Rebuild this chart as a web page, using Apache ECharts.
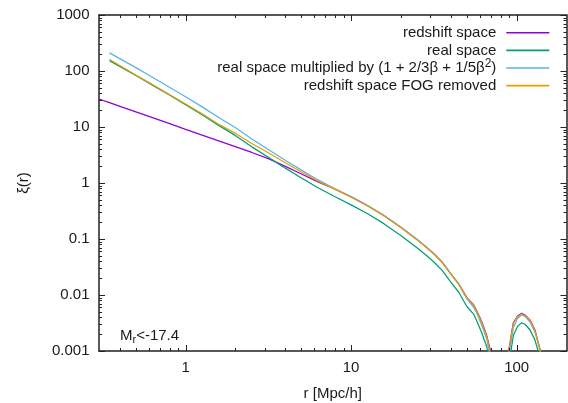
<!DOCTYPE html>
<html><head><meta charset="utf-8">
<script src="https://cdn.jsdelivr.net/npm/echarts@6/dist/echarts.min.js"></script>
<style>html,body{margin:0;padding:0;background:#fff}#c{width:568px;height:403px}</style>
</head><body><div id="c"></div>
<script>
// r [Mpc/h] sample points
const rVals = [0.3, 0.347, 0.398, 0.501, 0.631, 0.794, 1.0, 1.259, 1.585, 1.995, 2.512, 3.162, 3.981, 5.012, 6.31, 7.943, 10.0, 12.59, 15.85, 19.95, 25.12, 28.18, 31.62, 35.48, 39.81, 44.67, 50.12, 54.95, 57.54, 61.66, 66.07, 70.79, 75.86, 89.13, 95.5, 101.2, 107.2, 112.2, 120.2, 128.8, 138.0, 147.9];
// xi(r) for each series (null = not plotted / negative)
const redshiftSpace = [31.6, 27.2, 23.6, 18.6, 14.7, 11.6, 9.1, 7.18, 5.65, 4.46, 3.51, 2.72, 2.0, 1.45, 1.05, 0.78, 0.565, 0.392, 0.26, 0.162, 0.097, 0.0735, 0.0545, 0.0386, 0.0244, 0.0158, 0.0089, 0.0067, 0.0051, 0.0033, 0.00185, 0.0008, null, 0.00093, 0.0032, 0.0042, 0.0047, 0.0044, 0.0036, 0.0024, 0.0011, 0.0003];
const realSpace = [null, 153, 122, 83, 56, 37.6, 25.1, 16.6, 10.7, 7.08, 4.42, 2.88, 1.86, 1.23, 0.822, 0.575, 0.407, 0.282, 0.186, 0.116, 0.069, 0.0525, 0.0389, 0.0275, 0.0174, 0.0112, 0.00617, 0.00457, 0.00339, 0.00207, 0.00117, 0.0003, null, 0.0005, 0.0019, 0.00275, 0.0032, 0.0030, 0.0024, 0.00158, 0.00079, null];
const realScaled = [null, 211, 168, 115, 77.6, 51.9, 34.7, 22.9, 14.8, 9.77, 6.10, 3.98, 2.57, 1.70, 1.135, 0.794, 0.572, 0.397, 0.262, 0.163, 0.0975, 0.0738, 0.0548, 0.0388, 0.0245, 0.0158, 0.0085, 0.0060, 0.00468, 0.00286, 0.00162, 0.0005, null, 0.00069, 0.00263, 0.0038, 0.00442, 0.00417, 0.00331, 0.00219, 0.0011, 0.0003];
const fogRemoved = [null, 162, 127, 85, 57.5, 38.5, 25.7, 17.2, 11.2, 7.76, 5.07, 3.47, 2.32, 1.57, 1.08, 0.776, 0.562, 0.389, 0.257, 0.160, 0.0955, 0.0724, 0.0537, 0.038, 0.024, 0.0155, 0.0087, 0.0066, 0.0050, 0.00316, 0.00178, 0.0007, null, 0.00089, 0.0031, 0.0041, 0.00457, 0.00427, 0.00355, 0.00229, 0.00105, 0.0003];

const seriesNames = ['redshift space', 'real space', 'real space multiplied by (1 + 2/3β + 1/5β^2)', 'redshift space FOG removed'];
const seriesColors = ['#9400d3', '#009e73', '#56b4e9', '#e69f00'];

const xMajorTicks = [1, 10, 100];
const xMajorLabels = ['1', '10', '100'];
const xMinorTicks = [0.4, 0.5, 0.6, 0.7, 0.8, 0.9, 2, 3, 4, 5, 6, 7, 8, 9, 20, 30, 40, 50, 60, 70, 80, 90];
const yMajorTicks = [0.001, 0.01, 0.1, 1, 10, 100, 1000];
const yMajorLabels = ['0.001', '0.01', '0.1', '1', '10', '100', '1000'];
const yMinorTicks = [];
[0.001, 0.01, 0.1, 1, 10, 100].forEach(d => { for (let k = 2; k <= 9; k++) yMinorTicks.push(+(k * d).toPrecision(6)); });

const X_MIN = 0.3, X_MAX = 200, Y_MIN = 0.001, Y_MAX = 1000;
const FONT = 'Liberation Sans, Arial, sans-serif';
const INK = '#1a1a1a';
const lineCol = '#222';
const GRID = { left: 99, top: 15, right: 1.5, bottom: 52 };

function labelFor(ticks, labels) {
  return function (v) {
    for (let i = 0; i < ticks.length; i++) {
      if (Math.abs(Math.log10(v) - Math.log10(ticks[i])) < 1e-6) return labels[i];
    }
    return '';
  };
}

function mkAxis(kind, pos, showLabels, extra) {
  const ticks = kind === 'x' ? xMajorTicks : yMajorTicks;
  const labels = kind === 'x' ? xMajorLabels : yMajorLabels;
  const ax = {
    type: 'log', logBase: 10, position: pos,
    min: kind === 'x' ? X_MIN : Y_MIN, max: kind === 'x' ? X_MAX : Y_MAX,
    axisLine: { show: true, onZero: false, lineStyle: { color: lineCol, width: 1.5 } },
    axisTick: { show: false },
    axisLabel: showLabels ? {
      show: true, margin: kind === 'x' ? 9 : 9.5, fontSize: 15, fontFamily: FONT, color: INK,
      formatter: labelFor(ticks, labels)
    } : { show: false },
    splitLine: { show: false },
    minorTick: { show: false }
  };
  return Object.assign(ax, extra || {});
}

const xAxes = [
  mkAxis('x', 'bottom', true, { name: 'r [Mpc/h]', nameLocation: 'middle', nameGap: 35, nameTextStyle: { fontSize: 15, fontFamily: FONT, color: INK } }),
  mkAxis('x', 'top', false)
];
const yAxes = [
  mkAxis('y', 'left', true, { name: 'ξ(r)', nameLocation: 'middle', nameGap: 68, nameTextStyle: { fontSize: 15, fontFamily: FONT, color: INK } }),
  mkAxis('y', 'right', false)
];

const lineSeries = [redshiftSpace, realSpace, realScaled, fogRemoved].map((vals, si) => ({
  type: 'line',
  name: seriesNames[si],
  xAxisIndex: 0, yAxisIndex: 0,
  data: rVals.map((r, i) => [r, vals[i] == null ? null : vals[i]]),
  showSymbol: false, symbol: 'none',
  connectNulls: false, clip: true, smooth: false,
  lineStyle: { color: seriesColors[si], width: 1.25 },
  itemStyle: { color: seriesColors[si] },
  emphasis: { disabled: true },
  z: 2 + si
}));

function makeLabelText() {
  return {
    type: 'text', left: 120, top: 328.5,
    style: {
      text: 'M{sub|r}<-17.4', fontSize: 15, fontFamily: FONT, fill: INK,
      rich: { sub: { fontSize: 11, fontFamily: FONT, fill: INK, padding: [8, 0, 0, 0] } }
    }
  };
}

const chart = echarts.init(document.getElementById('c'), null, { renderer: 'canvas' });
chart.setOption({
  animation: false,
  grid: { left: GRID.left, top: GRID.top, right: GRID.right, bottom: GRID.bottom, containLabel: false, outerBoundsMode: 'none' },
  xAxis: xAxes,
  yAxis: yAxes,
  legend: {
    orient: 'vertical', right: 18.7, top: 21.8, align: 'right',
    padding: 0, itemGap: -4.4, itemWidth: 43, itemHeight: 10,
    icon: 'path://M0,0H43V1.6H0Z',
    selectedMode: false,
    data: seriesNames,
    formatter: n => n.replace('^2', '{sup|2}'),
    textStyle: {
      fontSize: 15, fontFamily: FONT, color: INK, lineHeight: 22, padding: [0, 5, 0, 0],
      rich: { sup: { fontSize: 12, fontFamily: FONT, color: INK, lineHeight: 22, padding: [0, 0, 8, 0] } }
    }
  },
  series: lineSeries
});

// Mirrored inward tick marks (gnuplot style)
const W = chart.getWidth(), H = chart.getHeight();
const PX_L = GRID.left, PX_R = W - GRID.right, PY_T = GRID.top, PY_B = H - GRID.bottom;
function logFrac(v, a, b) { return (Math.log10(v) - Math.log10(a)) / (Math.log10(b) - Math.log10(a)); }
function toX(v) {
  let p = null;
  try { p = chart.convertToPixel({ seriesIndex: 0 }, [v, 1]); } catch (e) { p = null; }
  const x = Array.isArray(p) ? p[0] : p;
  if (typeof x === 'number' && isFinite(x) && x >= PX_L - 1 && x <= PX_R + 1) return x;
  return PX_L + logFrac(v, X_MIN, X_MAX) * (PX_R - PX_L);
}
function toY(v) {
  let p = null;
  try { p = chart.convertToPixel({ seriesIndex: 0 }, [1, v]); } catch (e) { p = null; }
  const y = Array.isArray(p) ? p[1] : p;
  if (typeof y === 'number' && isFinite(y) && y >= PY_T - 1 && y <= PY_B + 1) return y;
  return PY_B - logFrac(v, Y_MIN, Y_MAX) * (PY_B - PY_T);
}
const xl = PX_L, xr = PX_R, yb = PY_B, yt = PY_T;
const graphicEls = [];
function tickLine(x1, y1, x2, y2) {
  return { type: 'line', z: 50, shape: { x1: x1, y1: y1, x2: x2, y2: y2 }, style: { stroke: lineCol, lineWidth: 1 } };
}
function addX(ticks, len) {
  ticks.forEach(v => {
    const x = Math.round(toX(v)) + 0.5;
    graphicEls.push(tickLine(x, yb, x, yb - len));
    graphicEls.push(tickLine(x, yt, x, yt + len));
  });
}
function addY(ticks, len) {
  ticks.forEach(v => {
    const y = Math.round(toY(v)) + 0.5;
    graphicEls.push(tickLine(xl, y, xl + len, y));
    graphicEls.push(tickLine(xr, y, xr - len, y));
  });
}
addX(xMajorTicks, 6); addX(xMinorTicks, 3);
addY(yMajorTicks, 6); addY(yMinorTicks, 3);
graphicEls.push(makeLabelText());
chart.setOption({ graphic: graphicEls });
</script></body></html>
